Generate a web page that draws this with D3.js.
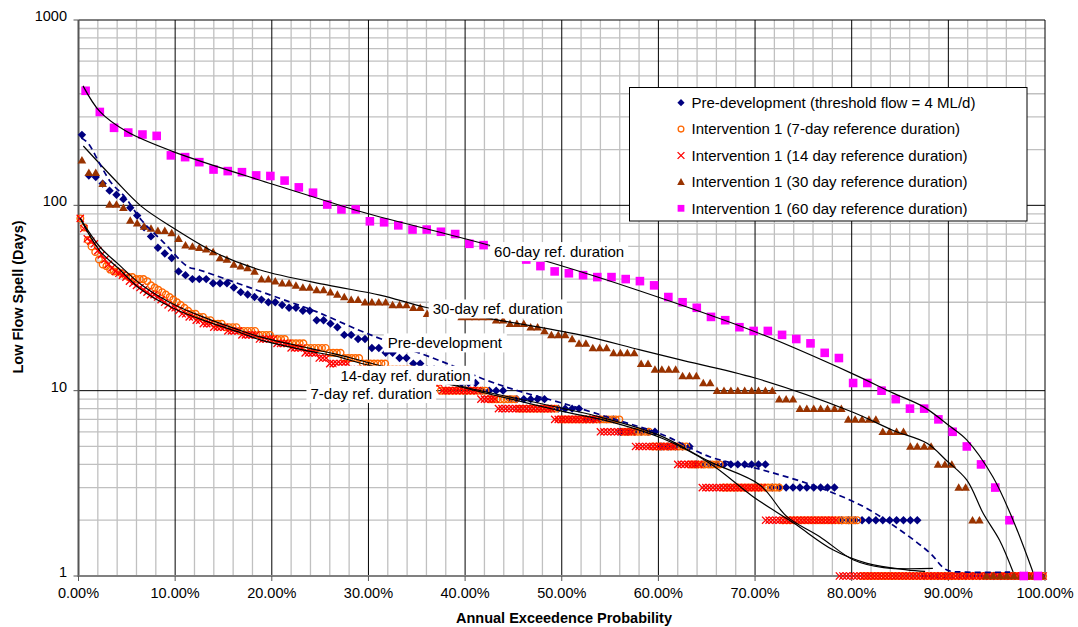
<!DOCTYPE html>
<html>
<head>
<meta charset="utf-8">
<title>Low Flow Spell Frequency</title>
<script src="https://cdn.jsdelivr.net/npm/d3@7"></script>
<style>
  html, body { margin: 0; padding: 0; background: #ffffff; }
  svg { display: block; }
  text { font-family: "Liberation Sans", Arial, Helvetica, sans-serif; fill: #000; }
</style>
</head>
<body>
<svg id="chart" width="1078" height="627"></svg>
<script>
// ---------------- data ----------------
// Low flow spell lengths (days), ranked from longest to shortest for each scenario.
const preDevDays = [
  240,145,142,131,120,114,108,97,88,76,
  68,59,55,52,44,42,40,40,40,38,
  38,38,36,34,33,32,31,30,30,29,
  28,28,27,27,24,24,23,22,20,20,
  19,19,17,17,16,16,15,15,14,14,
  13,13,12,12,12,11,11,11,10,10,
  10,10,9,9,9,9,9,9,8,8,
  8,8,8,7,7,7,7,7,6,6,
  6,6,6,6,5,5,5,5,5,4,
  4,4,4,4,4,4,4,4,4,4,
  3,3,3,3,3,3,3,3,3,3,
  2,2,2,2,2,2,2,2,2,2,
  2,2,1,1,1,1,1,1,1,1,
  1,1,1,1,1,1,1,1,1,1
];
const int7Days = [
  85,76,65,60,56,51,48,47,45,44,
  44,43,42,41,41,40,40,40,39,37,
  36,35,34,33,32,31,30,29,28,27,
  26,26,25,25,24,24,23,23,23,22,
  22,22,22,21,21,21,21,21,20,20,
  20,20,19,19,19,19,18,18,18,18,
  18,17,17,17,17,17,17,16,16,16,
  16,15,15,15,15,15,14,14,14,14,
  14,14,14,13,13,13,13,13,13,13,
  12,12,12,12,11,11,11,10,10,10,
  10,10,10,10,10,10,10,10,10,10,
  9,9,9,9,9,9,9,9,8,8,
  8,8,8,8,8,8,8,8,8,7,
  7,7,7,7,7,7,7,7,7,7,
  7,7,7,7,7,7,6,6,6,6,
  6,6,6,6,5,5,5,5,5,5,
  5,5,5,5,4,4,4,4,4,4,
  4,4,4,3,3,3,3,3,3,3,
  3,3,3,3,3,3,3,3,3,2,
  2,2,2,2,2,2,2,2,2,2,
  2,2,2,2,2,2,2,2,2,2,
  1,1,1,1,1,1,1,1,1,1,
  1,1,1,1,1,1,1,1,1,1,
  1,1,1,1,1,1,1,1,1,1,
  1,1,1,1,1,1,1,1,1,1,
  1,1,1,1,1,1,1,1,1,1
];
const int14Days = [
  85,75,66,64,62,57,54,51,48,46,
  44,43,42,41,39,38,37,36,35,34,
  33,33,32,31,30,29,28,28,27,26,
  26,25,25,24,24,23,23,23,22,22,
  22,22,21,21,21,21,20,20,20,20,
  20,19,19,19,19,19,18,18,18,18,
  17,17,17,17,16,16,16,16,15,15,
  15,14,14,14,14,14,14,13,13,13,
  13,13,13,12,12,12,12,12,12,12,
  12,12,12,11,11,11,11,11,11,11,
  11,11,11,10,10,10,10,10,10,10,
  10,10,10,10,9,9,9,9,9,8,
  8,8,8,8,8,8,8,8,8,8,
  8,8,8,8,8,7,7,7,7,7,
  7,7,7,7,7,7,7,7,6,6,
  6,6,6,6,6,6,6,6,5,5,
  5,5,5,5,5,5,5,5,5,5,
  4,4,4,4,4,4,4,3,3,3,
  3,3,3,3,3,3,3,3,3,3,
  3,3,3,3,3,2,2,2,2,2,
  2,2,2,2,2,2,2,2,2,2,
  2,2,2,2,2,2,1,1,1,1,
  1,1,1,1,1,1,1,1,1,1,
  1,1,1,1,1,1,1,1,1,1,
  1,1,1,1,1,1,1,1,1,1,
  1,1,1,1,1,1,1,1,1,1,
  1,1,1,1,1,1,1,1,1,1,
  1,1,1,1,1
];
const int30Days = [
  175,150,150,131,101,101,97,83,80,77,
  75,73,73,71,66,61,60,59,58,56,
  52,51,48,47,46,44,40,40,39,38,
  38,37,36,36,35,35,34,33,32,31,
  31,30,30,30,30,29,29,29,28,28,
  26,26,26,26,26,25,25,25,25,25,
  24,24,23,23,23,22,22,21,20,20,
  20,19,18,18,17,17,17,16,16,16,
  16,14,14,13,13,13,13,12,12,12,
  11,11,10,10,10,10,10,10,10,10,
  10,9,9,9,8,8,8,8,8,8,
  8,7,7,7,7,7,6,6,6,6,
  5,5,5,5,4,4,4,3,3,2,
  2,1,1,1,1,1,1,1,1,1
];
const int60Days = [
  415,319,262,247,241,237,186,182,171,156,
  153,151,145,144,136,125,117,101,95,95,
  82,81,78,74,74,72,70,62,61,58,
  55,51,47,44,43,42,41,41,40,39,
  37,32,30,28,25,24,22,21,21,20,
  19,18,16,15,11,11,10,9,8,8,
  7,6,5,4,3,2,1,1
];

// Fitted curves: annual exceedence probability (%) and spell length (days).
const fitPreDevAep  = [0.3,1.0,2.35,3.4,4.8,6.5,8.9,11.3,12.5,20.8,24.6,29.8,37.7,42.2,45.7,50.1,55.7,60.5,65.3,70.8,76.4,81.2,85.0,88.1,89.8,91.9,96.4];
const fitPreDevDays = [231,216,162,132,111,83.4,62.4,46.7,44.8,31.5,26.7,20.4,14.3,11.4,9.9,8.55,6.95,5.77,4.4,3.73,3.03,2.37,1.77,1.33,1.08,1.05,1.05];
const fit7Aep   = [0.16,2.22,4.09,6.54,9.98,13.4,16.9,18.8,23.7,26.5,29.1,39.1,50.2,54.0,60.0,65.3,70.5,73.3,76.7,80.2,83.3,88.4];
const fit7Days  = [85.3,59.6,48.3,37.2,29.0,24.4,21.0,19.5,17.0,15.8,14.6,10.7,8.0,7.2,5.77,4.14,3.1,2.09,1.63,1.22,1.11,1.1];
const fit14Aep  = [0.16,2.22,4.09,6.54,9.98,13.4,16.9,18.8,23.7,26.5,29.1,39.1,50.2,54.3,60.5,65.3,69.8,74.0,78.1,81.6,85.7,87.6];
const fit14Days = [85.3,56.7,45.9,34.9,27.6,23.5,20.4,18.8,16.4,15.4,14.1,10.6,7.7,6.95,5.5,4.06,2.68,1.93,1.38,1.17,1.08,1.06];
const fit30Aep  = [0.5,3.78,6.54,9.98,14.3,18.8,25.7,31.2,36.0,43.3,51.9,58.1,62.2,70.0,80.0,84.3,87.8,89.8,91.9,93.6,95.3,96.7];
const fit30Days = [209,137,98.4,74.6,55.1,44.8,37.2,32.8,28.1,24.1,20.0,16.6,14.7,11.7,7.7,6.1,5.2,4.2,3.3,2.18,1.56,1.05];
const fit60Aep  = [0.47,2.22,4.99,9.78,20.1,26.3,29.8,40.2,49.1,58.1,70.0,80.0,84.3,87.4,90.2,91.9,94.6,96.7,98.75];
const fit60Days = [441,320,250,195,130,103,90.6,65.6,48.7,34.5,20.8,12.4,9.7,8.2,6.4,5.42,3.43,2.0,1.05];

const legendLabels = [
  "Pre-development (threshold flow = 4 ML/d)",
  "Intervention 1 (7-day reference duration)",
  "Intervention 1 (14 day reference duration)",
  "Intervention 1 (30 day reference duration)",
  "Intervention 1 (60 day reference duration)"
];
const xTickValues = [0,10,20,30,40,50,60,70,80,90,100];
const xTickLabels = ["0.00%","10.00%","20.00%","30.00%","40.00%","50.00%","60.00%","70.00%","80.00%","90.00%","100.00%"];
const yTickValues = [1,10,100,1000];
const yTickLabels = ["1","10","100","1000"];
const xTitle = "Annual Exceedence Probability";
const yTitle = "Low Flow Spell (Days)";
const calloutTexts = ["60-day ref. duration","30-day ref. duration","Pre-development","14-day ref. duration","7-day ref. duration"];

// ---------------- layout ----------------
const svg = d3.select("#chart");
const plot = { left: 78.5, right: 1045, top: 20, bottom: 576 };
const x = d3.scaleLinear().domain([0, 100]).range([plot.left, plot.right]);
const y = d3.scaleLog().domain([1, 1000]).range([plot.bottom, plot.top]);

// callout anchor: [AEP %, days] for the left end / vertical middle of each label
const calloutAnchors = [[43.0, 56.3], [36.65, 27.6], [32.0, 18.1], [27.1, 12.1], [24.0, 9.65]];

// Hazen plotting position for a ranked series (in %)
const aep = (i, n) => (i + 0.5) / n * 100;
const toPoints = days => days.map((d, i) => [aep(i, days.length), d]);
const zip = (a, b) => a.map((v, i) => [v, b[i]]);

// ---------------- grid ----------------
const grid = svg.append("g");
const minorX = d3.range(2, 100, 2).filter(v => v % 10 !== 0);
const minorY = [];
[1, 10, 100].forEach(k => { for (let m = 2; m <= 9; m++) minorY.push(m * k); });

grid.selectAll(".mx").data(minorX).join("line")
  .attr("x1", d => x(d)).attr("x2", d => x(d))
  .attr("y1", plot.top).attr("y2", plot.bottom)
  .attr("stroke", "#c0c0c0").attr("stroke-width", 1.3);
grid.selectAll(".my").data(minorY).join("line")
  .attr("x1", plot.left).attr("x2", plot.right)
  .attr("y1", d => y(d)).attr("y2", d => y(d))
  .attr("stroke", "#c0c0c0").attr("stroke-width", 1.3);
grid.selectAll(".Mx").data(xTickValues.slice(1)).join("line")
  .attr("x1", d => x(d)).attr("x2", d => x(d))
  .attr("y1", plot.top).attr("y2", plot.bottom)
  .attr("stroke", "#000").attr("stroke-width", 1);
grid.selectAll(".My").data(yTickValues.slice(1)).join("line")
  .attr("x1", plot.left).attr("x2", plot.right)
  .attr("y1", d => y(d)).attr("y2", d => y(d))
  .attr("stroke", "#000").attr("stroke-width", 1);

// axes lines and ticks
const axes = svg.append("g");
axes.append("line").attr("x1", plot.left).attr("x2", plot.left)
  .attr("y1", plot.top).attr("y2", plot.bottom + 1)
  .attr("stroke", "#555").attr("stroke-width", 2);
axes.append("line").attr("x1", plot.left).attr("x2", plot.right)
  .attr("y1", plot.bottom).attr("y2", plot.bottom)
  .attr("stroke", "#808080").attr("stroke-width", 2);
axes.selectAll(".xt").data(xTickValues).join("line")
  .attr("x1", d => x(d)).attr("x2", d => x(d))
  .attr("y1", plot.bottom).attr("y2", plot.bottom + 5)
  .attr("stroke", "#555").attr("stroke-width", 1);
axes.selectAll(".yt").data(yTickValues).join("line")
  .attr("x1", plot.left - 5).attr("x2", plot.left)
  .attr("y1", d => y(d)).attr("y2", d => y(d))
  .attr("stroke", "#555").attr("stroke-width", 1);

axes.selectAll(".xl").data(xTickValues).join("text")
  .attr("x", d => x(d)).attr("y", 598)
  .attr("text-anchor", "middle").attr("font-size", 14.5)
  .text((d, i) => xTickLabels[i]);
axes.selectAll(".yl").data(yTickValues).join("text")
  .attr("x", 67).attr("y", d => y(d) + 1)
  .attr("text-anchor", "end").attr("font-size", 14.5)
  .text((d, i) => yTickLabels[i]);
axes.append("text").attr("x", 564).attr("y", 623)
  .attr("text-anchor", "middle").attr("font-size", 14.5).attr("font-weight", "bold")
  .text(xTitle);
axes.append("text").attr("transform", "translate(23,297) rotate(-90)")
  .attr("text-anchor", "middle").attr("font-size", 14.5).attr("font-weight", "bold")
  .text(yTitle);

// ---------------- markers ----------------
const shapes = {
  diamond:  "M0,-4.2L4.2,0L0,4.2L-4.2,0Z",
  triangle: "M0,-4.2L4.3,3.3L-4.3,3.3Z",
  square:   "M-4.3,-4.3H4.3V4.3H-4.3Z",
  cross:    "M-3.6,-3.6L3.6,3.6M-3.6,3.6L3.6,-3.6",
  circle:   d3.symbol(d3.symbolCircle, 34)()
};
const series = [
  { days: preDevDays, shape: "diamond",  fill: "#000080", stroke: "none" },
  { days: int7Days,   shape: "circle",   fill: "none",    stroke: "#FF6600" },
  { days: int14Days,  shape: "cross",    fill: "none",    stroke: "#FF0000" },
  { days: int30Days,  shape: "triangle", fill: "#993300", stroke: "none" },
  { days: int60Days,  shape: "square",   fill: "#FF00FF", stroke: "none" }
];
const marks = svg.append("g");
series.forEach(s => {
  marks.append("g").selectAll("path").data(toPoints(s.days)).join("path")
    .attr("transform", d => `translate(${x(d[0])},${y(d[1])})`)
    .attr("d", shapes[s.shape])
    .attr("fill", s.fill)
    .attr("stroke", s.stroke)
    .attr("stroke-width", s.shape === "cross" ? 1.3 : 1.4);
});

// ---------------- fitted curves ----------------
const line = d3.line().x(d => x(d[0])).y(d => y(d[1])).curve(d3.curveCatmullRom.alpha(0.5));
const fits = svg.append("g").attr("fill", "none");
[[fit7Aep, fit7Days], [fit14Aep, fit14Days], [fit30Aep, fit30Days], [fit60Aep, fit60Days]].forEach(f => {
  fits.append("path").attr("d", line(zip(f[0], f[1])))
    .attr("stroke", "#000").attr("stroke-width", 1.2);
});
fits.append("path").attr("d", line(zip(fitPreDevAep, fitPreDevDays)))
  .attr("stroke", "#000080").attr("stroke-width", 1.7).attr("stroke-dasharray", "6,4");

// ---------------- callouts ----------------
const callouts = svg.append("g");
calloutTexts.forEach((t, i) => {
  const [a, d] = calloutAnchors[i];
  const g = callouts.append("g");
  const rect = g.append("rect").attr("fill", "#fff");
  const txt = g.append("text").attr("x", x(a)).attr("y", y(d) + 5.3)
    .attr("font-size", 15).text(t);
  const bb = txt.node().getBBox();
  rect.attr("x", bb.x - 4).attr("y", y(d) - 9.5)
    .attr("width", bb.width + 8).attr("height", 19);
});

// ---------------- legend ----------------
const legend = svg.append("g");
legend.append("rect").attr("x", 629.5).attr("y", 87.5).attr("width", 397.5).attr("height", 133.5)
  .attr("fill", "#fff").attr("stroke", "#000").attr("stroke-width", 1);
const legendShapes = {
  diamond:  "M0,-3.6L3.6,0L0,3.6L-3.6,0Z",
  triangle: "M0,-3.8L3.8,3L-3.8,3Z",
  square:   "M-3.4,-3.4H3.4V3.4H-3.4Z",
  cross:    "M-3.4,-3.4L3.4,3.4M-3.4,3.4L3.4,-3.4",
  circle:   d3.symbol(d3.symbolCircle, 26)()
};
series.forEach((s, i) => {
  const cy = 102.7 + i * 26.4;
  legend.append("path").attr("transform", `translate(681,${cy})`)
    .attr("d", legendShapes[s.shape]).attr("fill", s.fill).attr("stroke", s.stroke)
    .attr("stroke-width", 1.3);
  legend.append("text").attr("x", 691.5).attr("y", cy + 5.3)
    .attr("font-size", 15).text(legendLabels[i]);
});
</script>
</body>
</html>
